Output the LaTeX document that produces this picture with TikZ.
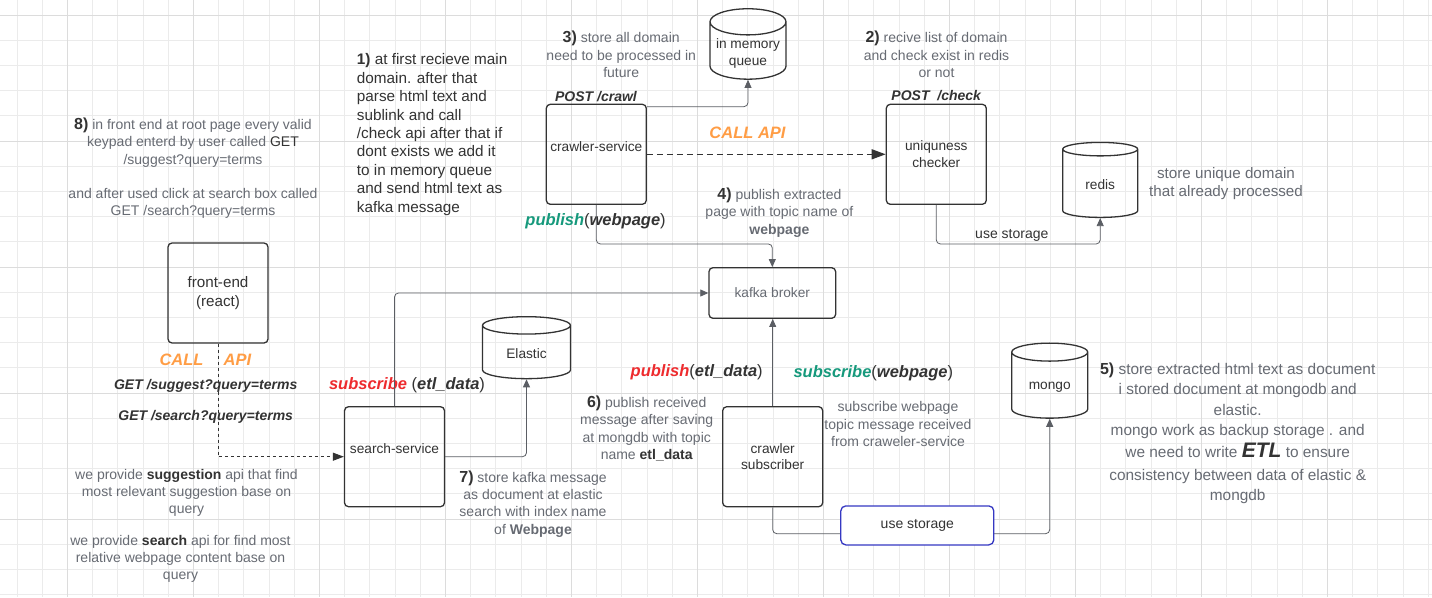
\documentclass[tikz,border=0pt]{standalone}
\usepackage{fontspec}
\setmainfont{Liberation Sans}
\usetikzlibrary{arrows.meta,shapes.geometric}

\definecolor{ink}{HTML}{333333}
\definecolor{notegray}{HTML}{676B73}
\definecolor{wiregray}{HTML}{5B5E64}
\definecolor{gridminor}{HTML}{EBEBEB}
\definecolor{gridmajor}{HTML}{DCDCDC}
\definecolor{callorange}{HTML}{FF9D45}
\definecolor{pubred}{HTML}{EE2B2E}
\definecolor{subgreen}{HTML}{16997C}
\definecolor{tagblue}{HTML}{3538C2}

\newcommand{\fs}[2]{\fontsize{#1}{#2}\selectfont}
\newcommand{\stepno}[1]{{\color{ink}\fontsize{16}{17.3}\selectfont\bfseries #1)}}
\newcommand{\kw}[2]{{\color{#1}\bfseries\itshape #2}}
\newcommand{\topicname}[1]{{\bfseries\itshape #1}}

\begin{document}
\begin{tikzpicture}[x=1pt,y=-1pt,
    svc/.style={draw=ink,line width=1.3pt,rounded corners=4pt,minimum width=100pt,minimum height=100pt,
        align=center,text=ink,font=\fs{13.7}{16.5}},
    db/.style={cylinder,shape border rotate=90,aspect=0.37,draw=ink,line width=1.3pt,
        align=center,text=ink,font=\fs{13.7}{16.5}},
    hint/.style={align=center,inner sep=0pt,text=notegray,font=\fs{14}{17.3}},
    tag/.style={inner sep=0pt,text=ink,font=\fs{14}{17}\bfseries\itshape},
    topic/.style={inner sep=0pt,text=ink,font=\fs{16.5}{19}},
    callapi/.style={inner sep=0pt,text=callorange,font=\fs{16.5}{19}\bfseries\itshape},
    storetag/.style={draw=tagblue,line width=1.3pt,rounded corners=5pt,fill=white,
        minimum width=153pt,minimum height=39pt,text=ink,font=\fs{14}{17}},
    wire/.style={draw=wiregray,line width=0.8pt,rounded corners=4pt,-{Triangle[length=8pt,width=7pt]}},
    callline/.style={draw=ink,line width=1.3pt,dash pattern=on 6pt off 4pt,-{Triangle[length=14pt,width=10pt]}},
    frontline/.style={draw=ink,line width=1pt,dash pattern=on 3pt off 3pt,-{Triangle[length=11pt,width=8pt]}},
    gridln/.style={draw=gridminor,line width=0.8pt},
    gridmj/.style={draw=gridmajor,line width=1pt}]

    \useasboundingbox (0,0) rectangle (1432,597);
    \fill[white] (0,0) rectangle (1432,597);

    \foreach \i in {0,...,57} \draw[gridln] ({-8.3+25.2*\i},0) -- ++(0,597);
    \foreach \j in {0,...,23} \draw[gridln] (0,{15+25.2*\j}) -- ++(1432,0);
    \foreach \i in {0,...,10} \draw[gridmj] ({67.3+126*\i},0) -- ++(0,597);
    \foreach \j in {0,...,4} \draw[gridmj] (0,{15+126*\j}) -- ++(1432,0);

    \node (crawl) at (596.3,154.3) [svc] {crawler-service\\\mbox{}};
    \node (check) at (936.3,154.3) [svc] {uniquness\\checker};
    \node (front) at (218,293) [svc,font=\fs{15.2}{18.5}] {front-end\\(react)};
    \node (search) at (394.5,456.7) [svc] {search-service\\\mbox{}};
    \node (sub) at (772.7,456.7) [svc] {crawler\\subscriber};
    \node (kafka) at (772.3,293) [svc,minimum width=126.7pt,minimum height=50.6pt,text=notegray] {kafka broker};

    \node (queue) at (748,53.5) [db,minimum width=76pt,minimum height=70pt] {in memory\\queue};
    \node (redis) at (1100.2,185) [db,minimum width=75pt,minimum height=75pt] {redis};
    \node (elastic) at (526.5,354) [db,minimum width=88pt,minimum height=62pt] {Elastic};
    \node (mongo) at (1049.7,387.3) [db,minimum width=76pt,minimum height=75pt] {mongo};

    \node (post1) at (596,96.7) [tag] {POST /crawl};
    \node (post2) at (936.2,96) [tag] {POST\ \ /check};
    \node (call1) at (747.5,133.3) [callapi] {CALL API};
    \node (call2) at (181.5,360) [callapi] {CALL};
    \node (call3) at (237.5,360) [callapi] {API};
    \node (get1) at (205.7,385.7) [tag] {GET /suggest?query=terms};
    \node (get2) at (205.7,417.3) [tag] {GET /search?query=terms};
    \node (pub1) at (595.6,221) [topic] {\kw{subgreen}{publish}(\topicname{webpage})};
    \node (pub2) at (696.7,372.7) [topic] {\kw{pubred}{publish}(\topicname{etl\_data})};
    \node (sub1) at (407,385.7) [topic] {\kw{pubred}{subscribe} (\topicname{etl\_data})};
    \node (sub2) at (873.3,373.3) [topic] {\kw{subgreen}{subscribe}(\topicname{webpage})};
    \node (use1) at (1011.8,235) [hint,text=ink] {use storage};

    \node (note1) at (356.7,134.5) [anchor=west,align=left,inner sep=0pt,text=ink,font=\fs{15.3}{18.4}]
        {\textbf{1)} at first recieve main\\domain. after that\\parse html text and\\sublink and call\\/check api after that if\\dont exists we add it\\to in memory queue\\and send html text as\\kafka message};
    \node (note2) at (936.5,54.5) [hint] {\stepno{2} recive list of domain\\and check exist in redis\\or not};
    \node (note3) at (621.2,54.5) [hint] {\stepno{3} store all domain\\need to be processed in\\future};
    \node (note4) at (779.4,212.5) [hint] {\stepno{4} publish extracted\\page with topic name of\\\textbf{webpage}};
    \node (note5) at (1237.7,433.3) [hint,font=\fs{15.4}{20.3}]
        {\stepno{5} store extracted html text as document\\i stored document at mongodb and\\elastic.\\mongo work as backup storage . and\\[2pt]we need to write {\color{ink}\fs{21}{20.3}\bfseries\itshape ETL} to ensure\\[2pt]consistency between data of elastic \&\\mongdb};
    \node (note6) at (646.7,428.5) [hint] {\stepno{6} publish received\\message after saving\\at mongdb with topic\\name {\color{ink}\textbf{etl\_data}}};
    \node (note7) at (533,504) [hint] {\stepno{7} store kafka message\\as document at elastic\\search with index name\\of \textbf{Webpage}};
    \node (note8) at (193,168.4) [hint] {\stepno{8} in front end at root page every valid\\keypad enterd by user called \color{ink}GET\\/suggest?query=terms\\[17.3pt]and after used click at search box called\\GET /search?query=terms};
    \node (note9) at (1226,184) [hint,font=\fs{15.2}{18}] {store unique domain\\that already processed};
    \node (note10) at (898,424) [hint] {subscribe webpage\\topic message received\\from craweler-service};
    \node (note11) at (186.5,493) [hint] {we provide {\color{ink}\textbf{suggestion}} api that find\\most relevant suggestion base on\\query};
    \node (note12) at (180.5,559) [hint] {we provide {\color{ink}\textbf{search}} api for find most\\relative webpage content base on\\query};

    \draw[wire] ([yshift=-3pt]crawl.north east) -| (queue.south);
    \draw[callline] (crawl.east) -- (check.west);
    \draw[wire] (crawl.south) -- ++(0,39) -| (kafka.north);
    \draw[wire] (check.south) -- ++(0,39) -| (redis.south);
    \draw[wire] (search.north) |- (kafka.west);
    \draw[wire] (sub.north) -- (sub.north |- kafka.south);
    \draw[frontline] (front.south) |- (search.west);
    \draw[wire] (search.east) -| (elastic.south);
    \draw[wire] (sub.south) -- ++(0,26.3) -| (mongo.south);
    \node (store) at (917.3,525.4) [storetag] {use storage};
\end{tikzpicture}
\end{document}
